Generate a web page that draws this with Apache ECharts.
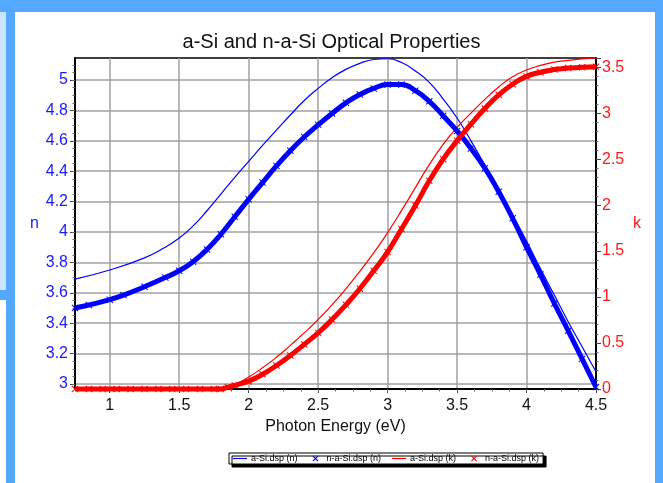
<!DOCTYPE html>
<html>
<head>
<meta charset="utf-8">
<script src="https://cdn.jsdelivr.net/npm/echarts@6/dist/echarts.min.js"></script>
<style>html,body{margin:0;padding:0;background:#fff}#c{width:663px;height:483px}</style>
</head>
<body>
<div id="c"></div>
<script>
// ---- data ----
const titleText = 'a-Si and n-a-Si Optical Properties';
const xTicks = [1, 1.5, 2, 2.5, 3, 3.5, 4, 4.5];
const nTicks = [3, 3.2, 3.4, 3.6, 3.8, 4, 4.2, 4.4, 4.6, 4.8, 5];
const seriesNames = ['a-Si.dsp (n)', 'n-a-Si.dsp (n)', 'a-Si.dsp (k)', 'n-a-Si.dsp (k)'];

// a-Si.dsp (n)
const aSiN_E = [0.75,1.0,1.25,1.4,1.5,1.6,1.7,1.8,1.9,2.0,2.1,2.2,2.3,2.4,2.5,2.6,2.7,2.8,2.9,3.0,3.1,3.2,3.3,3.4,3.5,3.6,3.7,3.8,3.9,4.0,4.1,4.2,4.3,4.4,4.5];
const aSiN   = [3.69,3.75,3.83,3.90,3.96,4.04,4.14,4.25,4.36,4.465,4.57,4.67,4.77,4.865,4.945,5.015,5.07,5.11,5.135,5.14,5.115,5.06,4.985,4.875,4.75,4.60,4.44,4.28,4.11,3.94,3.76,3.585,3.41,3.245,3.08];
// n-a-Si.dsp (n)
const naSiN_E = [0.75,0.85,1.0,1.1,1.25,1.4,1.5,1.6,1.7,1.8,1.9,2.0,2.1,2.2,2.3,2.4,2.5,2.6,2.7,2.8,2.9,3.0,3.1,3.2,3.3,3.4,3.5,3.6,3.7,3.8,3.9,4.0,4.1,4.2,4.3,4.4,4.5];
const naSiN   = [3.50,3.52,3.555,3.585,3.64,3.70,3.745,3.805,3.885,3.985,4.10,4.215,4.325,4.435,4.535,4.625,4.705,4.78,4.85,4.905,4.945,4.97,4.97,4.93,4.86,4.765,4.665,4.55,4.42,4.265,4.09,3.90,3.72,3.53,3.35,3.165,2.98];
// a-Si.dsp (k)
const aSiK_E = [0.75,1.0,1.25,1.5,1.75,1.8,1.9,2.0,2.1,2.2,2.3,2.4,2.5,2.6,2.7,2.8,2.9,3.0,3.1,3.2,3.3,3.4,3.5,3.6,3.7,3.8,3.9,4.0,4.1,4.2,4.3,4.4,4.5];
const aSiK   = [0,0,0,0,0,0.005,0.05,0.13,0.23,0.345,0.475,0.61,0.755,0.915,1.09,1.28,1.48,1.70,1.94,2.19,2.44,2.66,2.845,3.0,3.15,3.285,3.395,3.47,3.52,3.555,3.575,3.59,3.60];
// n-a-Si.dsp (k)
const naSiK_E = [0.75,0.85,0.95,1.05,1.15,1.25,1.35,1.45,1.55,1.65,1.75,1.8,1.85,1.9,2.0,2.1,2.2,2.3,2.4,2.5,2.6,2.7,2.8,2.9,3.0,3.1,3.2,3.3,3.4,3.5,3.6,3.7,3.8,3.9,4.0,4.1,4.2,4.3,4.4,4.5];
const naSiK   = [0,0,0,0,0,0,0,0,0,0,0,0,0.02,0.04,0.085,0.16,0.255,0.365,0.485,0.61,0.755,0.915,1.09,1.285,1.49,1.74,1.995,2.265,2.50,2.70,2.88,3.05,3.20,3.315,3.40,3.445,3.475,3.49,3.50,3.505];

// ---- chart ----
const pair = (xs, ys) => xs.map((x, i) => [x, ys[i]]);
const xMinor = []; for (let v = 0.875; v < 4.5; v += 0.125) xMinor.push(+v.toFixed(3));
const nMinor = []; for (let v = 3.0; v <= 5.1; v += 0.05) nMinor.push(+v.toFixed(2));

const BLUE = '#0000ff', RED = '#ff0000';
const XPATH = 'path://M0,1L1,0L5,4L9,0L10,1L6,5L10,9L9,10L5,6L1,10L0,9L4,5Z';
const LEG_LINE = 'path://M0,0M16,8M1,3.4L15,3.4L15,4.6L1,4.6Z';
const LEG_X = 'path://M0,0M16,8M5,1.8L5.8,1L8,3.2L10.2,1L11,1.8L8.8,4L11,6.2L10.2,7L8,4.8L5.8,7L5,6.2L7.2,4Z';
const FONT = 'Liberation Sans, Arial, sans-serif';

const chart = echarts.init(document.getElementById('c'), null, {renderer: 'canvas'});
chart.setOption({
  animation: false,
  backgroundColor: '#ffffff',
  graphic: [
    {type: 'rect', left: 0, top: 0, shape: {width: 6, height: 290}, style: {fill: '#cce5ff'}, z: -10},
    {type: 'rect', left: 0, top: 0, shape: {width: 663, height: 12}, style: {fill: '#55a8ff'}, z: -9},
    {type: 'rect', left: 6, top: 0, shape: {width: 9, height: 483}, style: {fill: '#55a8ff'}, z: -9},
    {type: 'rect', left: 0, top: 290, shape: {width: 15, height: 10}, style: {fill: '#55a8ff'}, z: -9},
    {type: 'rect', left: 655, top: 0, shape: {width: 8, height: 483}, style: {fill: '#55a8ff'}, z: -9}
  ],
  title: {
    text: titleText, left: 'center', top: 27,
    textStyle: {fontFamily: FONT, fontSize: 20, fontWeight: 'normal', color: '#111'}
  },
  legend: {
    left: 229, top: 453, padding: [1, 4, 1, 3], itemGap: 10,
    itemWidth: 16, itemHeight: 8,
    backgroundColor: '#fff', borderColor: '#000', borderWidth: 1,
    shadowColor: '#000', shadowBlur: 0, shadowOffsetX: 3, shadowOffsetY: 3,
    textStyle: {fontFamily: FONT, fontSize: 9, color: '#000', padding: [0, 0, 0, -2]},
    data: [
      {name: seriesNames[0], icon: LEG_LINE, itemStyle: {color: BLUE}},
      {name: seriesNames[1], icon: LEG_X, itemStyle: {color: BLUE}},
      {name: seriesNames[2], icon: LEG_LINE, itemStyle: {color: RED}},
      {name: seriesNames[3], icon: LEG_X, itemStyle: {color: RED}}
    ]
  },
  grid: {left: 75, right: 67, top: 58, bottom: 94, show: true, borderColor: '#000', borderWidth: 1.5, backgroundColor: '#fff'},
  xAxis: [{
    type: 'value', min: 0.75, max: 4.5,
    name: 'Photon Energy (eV)', nameLocation: 'middle', nameGap: 30,
    nameTextStyle: {fontFamily: FONT, fontSize: 16, color: '#111'},
    axisLine: {show: true, lineStyle: {color: '#000', width: 2}},
    axisTick: {show: true, customValues: xTicks, length: 4, lineStyle: {color: '#444'}},
    axisLabel: {customValues: xTicks, margin: 9, fontFamily: FONT, fontSize: 16, color: '#111'},
    splitLine: {show: true, lineStyle: {color: '#a0a0a0', width: 1.5}}
  }, {
    type: 'value', min: 0.75, max: 4.5, position: 'bottom',
    axisLine: {show: false}, axisLabel: {show: false}, splitLine: {show: false},
    axisTick: {show: true, customValues: xMinor, length: 2.5, lineStyle: {color: '#666'}}
  }],
  yAxis: [{
    type: 'value', min: 2.967, max: 5.145, position: 'left',
    name: 'n', nameLocation: 'middle', nameRotate: 0, nameGap: 36,
    nameTextStyle: {fontFamily: FONT, fontSize: 16, color: '#1a1aff'},
    axisLine: {show: true, lineStyle: {color: '#000', width: 2}},
    axisTick: {show: true, customValues: nTicks, length: 5, lineStyle: {color: '#444'}},
    axisLabel: {customValues: nTicks, margin: 7, fontFamily: FONT, fontSize: 16, color: '#1a1aff'},
    splitLine: {show: true, lineStyle: {color: '#a0a0a0', width: 1.5}}
  }, {
    type: 'value', min: 0, max: 3.6, interval: 0.5, position: 'right',
    name: 'k', nameLocation: 'middle', nameRotate: 0, nameGap: 37,
    nameTextStyle: {fontFamily: FONT, fontSize: 16, color: '#ff1a1a'},
    axisLine: {show: true, lineStyle: {color: '#000', width: 2}},
    axisTick: {show: true, length: 5, lineStyle: {color: '#444'}},
    minorTick: {show: true, splitNumber: 5, length: 2.5, lineStyle: {color: '#666'}},
    axisLabel: {margin: 6, fontFamily: FONT, fontSize: 16, color: '#ff1a1a', showMaxLabel: false},
    splitLine: {show: false}
  }, {
    type: 'value', min: 2.967, max: 5.145, position: 'left',
    axisLine: {show: false}, axisLabel: {show: false}, splitLine: {show: false},
    axisTick: {show: true, customValues: nMinor, length: 2.5, lineStyle: {color: '#666'}}
  }],
  series: [
    {name: seriesNames[0], type: 'line', xAxisIndex: 0, yAxisIndex: 0, data: pair(aSiN_E, aSiN),
     smooth: 0.5, showSymbol: false, lineStyle: {color: BLUE, width: 1.2}, itemStyle: {color: BLUE}, z: 3},
    {name: seriesNames[1], type: 'line', xAxisIndex: 0, yAxisIndex: 0, data: pair(naSiN_E, naSiN),
     smooth: 0.5, clip: false, symbol: XPATH, symbolSize: 7, showAllSymbol: true,
     lineStyle: {color: BLUE, width: 5}, itemStyle: {color: BLUE}, z: 4},
    {name: seriesNames[2], type: 'line', xAxisIndex: 0, yAxisIndex: 1, data: pair(aSiK_E, aSiK),
     smooth: 0.5, clip: false, showSymbol: false, lineStyle: {color: RED, width: 1.2}, itemStyle: {color: RED}, z: 3},
    {name: seriesNames[3], type: 'line', xAxisIndex: 0, yAxisIndex: 1, data: pair(naSiK_E, naSiK),
     smooth: 0.5, clip: false, symbol: XPATH, symbolSize: 7, showAllSymbol: true,
     lineStyle: {color: RED, width: 5}, itemStyle: {color: RED}, z: 4}
  ]
});
</script>
</body>
</html>
